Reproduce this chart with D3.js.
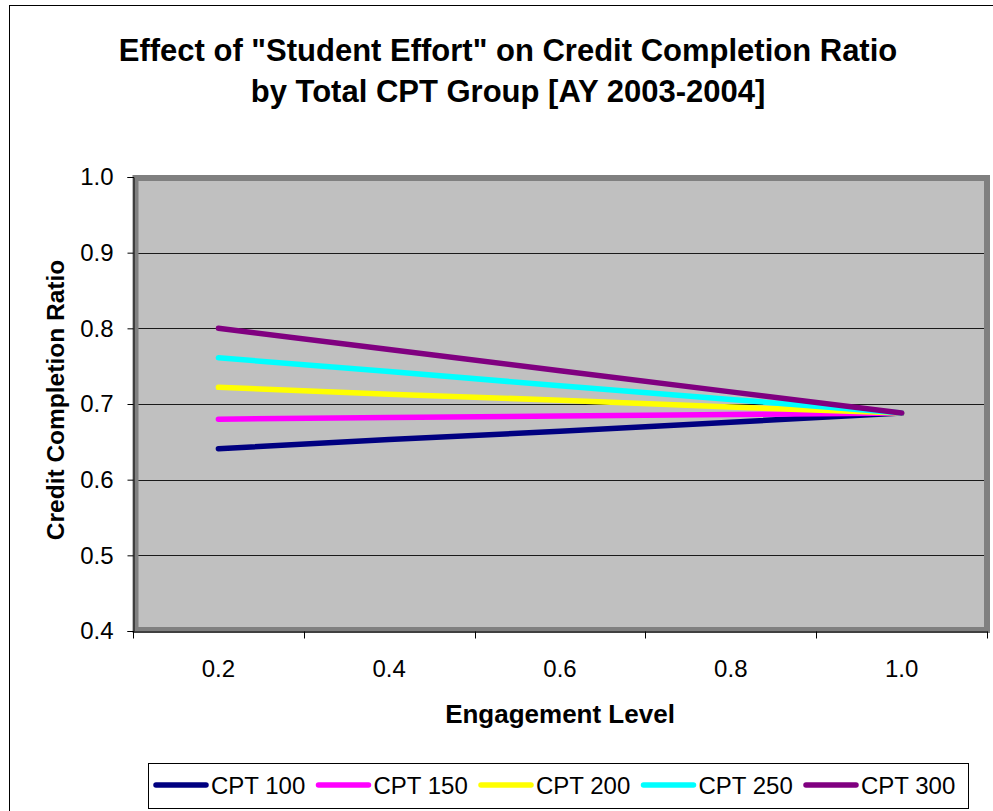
<!DOCTYPE html>
<html>
<head>
<meta charset="utf-8">
<script src="https://cdn.jsdelivr.net/npm/d3@7"></script>
<style>
  body { margin: 0; background: #fff; }
  text { font-family: Arial, "Liberation Sans", sans-serif; }
</style>
</head>
<body>
<div id="chart"></div>
<script>
// data
const levels = ["0.2", "0.4", "0.6", "0.8", "1.0"];
const seriesNames = ["CPT 100", "CPT 150", "CPT 200", "CPT 250", "CPT 300"];
const cpt100 = [0.641, 0.653, 0.664, 0.676, 0.688];
const cpt150 = [0.680, 0.682, 0.684, 0.686, 0.688];
const cpt200 = [0.722, 0.713, 0.705, 0.696, 0.688];
const cpt250 = [0.761, 0.743, 0.724, 0.706, 0.688];
const cpt300 = [0.800, 0.772, 0.744, 0.716, 0.688];
const yTicks = [0.4, 0.5, 0.6, 0.7, 0.8, 0.9, 1.0];
const colors = ["#000080", "#FF00FF", "#FFFF00", "#00FFFF", "#800080"];

const allSeries = [cpt100, cpt150, cpt200, cpt250, cpt300];

const width = 993, height = 811;
const plot = { left: 133, right: 987, top: 177, bottom: 631 };

const svg = d3.select("#chart").append("svg")
    .attr("width", width)
    .attr("height", height);

// outer chart frame
svg.append("rect")
    .attr("x", 9.5).attr("y", 5.5)
    .attr("width", 1000).attr("height", 900)
    .attr("fill", "#fff")
    .attr("stroke", "#000");

const x = d3.scaleBand().domain(levels).range([plot.left, plot.right]);
const y = d3.scaleLinear().domain([0.4, 1.0]).range([plot.bottom, plot.top]);

// plot area
svg.append("rect")
    .attr("x", plot.left).attr("y", plot.top)
    .attr("width", plot.right - plot.left)
    .attr("height", plot.bottom - plot.top)
    .attr("fill", "#C0C0C0");

// gridlines
svg.append("g")
    .selectAll("line")
    .data(yTicks.filter(d => d > 0.4 && d < 1.0))
    .join("line")
    .attr("x1", plot.left).attr("x2", plot.right)
    .attr("y1", d => Math.round(y(d)) + 0.5)
    .attr("y2", d => Math.round(y(d)) + 0.5)
    .attr("stroke", "#1a1a1a");

// plot area border (thick gray)
svg.append("rect")
    .attr("x", plot.left + 2.5).attr("y", plot.top + 1)
    .attr("width", plot.right - plot.left - 2.5)
    .attr("height", plot.bottom - plot.top - 2)
    .attr("fill", "none")
    .attr("stroke", "#808080")
    .attr("stroke-width", 6);

// y axis
const yAxis = svg.append("g")
    .attr("transform", `translate(${plot.left + 0.5},0)`)
    .call(d3.axisLeft(y).tickValues(yTicks).tickFormat(d3.format(".1f")).tickSize(6).tickPadding(14));
yAxis.select(".domain").attr("stroke", "#000");
yAxis.selectAll("text").attr("font-size", 24).attr("fill", "#000")
    .attr("font-family", "Arial, 'Liberation Sans', sans-serif");

// x axis
const xAxis = svg.append("g")
    .attr("transform", `translate(0,${plot.bottom + 0.5})`)
    .call(d3.axisBottom(x).tickSize(0).tickPadding(28));
xAxis.select(".domain").attr("stroke", "#000");
xAxis.selectAll("text").attr("font-size", 24).attr("fill", "#000")
    .attr("font-family", "Arial, 'Liberation Sans', sans-serif");

// x tick marks between categories
const bounds = levels.map(d => x(d)).concat([x(levels[levels.length - 1]) + x.bandwidth()]);
xAxis.selectAll(".sep")
    .data(bounds)
    .join("line")
    .attr("class", "sep")
    .attr("x1", d => Math.round(d) + 0.5).attr("x2", d => Math.round(d) + 0.5)
    .attr("y1", 0).attr("y2", 7)
    .attr("stroke", "#000");

// lines
const line = d3.line()
    .x((d, i) => x(levels[i]) + x.bandwidth() / 2)
    .y(d => y(d));

svg.append("g")
    .selectAll("path")
    .data(allSeries)
    .join("path")
    .attr("d", line)
    .attr("fill", "none")
    .attr("stroke", (d, i) => colors[i])
    .attr("stroke-width", 5.5)
    .attr("stroke-linecap", "round")
    .attr("stroke-linejoin", "round");

// titles
svg.append("text")
    .attr("x", 508).attr("y", 61)
    .attr("text-anchor", "middle")
    .attr("font-size", 31).attr("font-weight", "bold")
    .text('Effect of "Student Effort" on Credit Completion Ratio');
svg.append("text")
    .attr("x", 508).attr("y", 102)
    .attr("text-anchor", "middle")
    .attr("font-size", 31).attr("font-weight", "bold")
    .text("by Total CPT Group [AY 2003-2004]");

svg.append("text")
    .attr("x", 560).attr("y", 723)
    .attr("text-anchor", "middle")
    .attr("font-size", 26).attr("font-weight", "bold")
    .text("Engagement Level");

svg.append("text")
    .attr("transform", `translate(64,400) rotate(-90)`)
    .attr("text-anchor", "middle")
    .attr("font-size", 24.5).attr("font-weight", "bold")
    .text("Credit Completion Ratio");

// legend
const legend = svg.append("g");
legend.append("rect")
    .attr("x", 148.5).attr("y", 763.5)
    .attr("width", 820).attr("height", 45)
    .attr("fill", "#fff")
    .attr("stroke", "#000");

const lx = d3.scalePoint().domain(seriesNames).range([156, 806]);
const item = legend.selectAll(".item")
    .data(seriesNames)
    .join("g")
    .attr("class", "item")
    .attr("transform", d => `translate(${lx(d)},785)`);
item.append("line")
    .attr("x1", 0).attr("x2", 50)
    .attr("stroke", (d, i) => colors[i])
    .attr("stroke-width", 5.5)
    .attr("stroke-linecap", "round");
item.append("text")
    .attr("x", 55).attr("y", 8.5)
    .attr("font-size", 24)
    .text(d => d);
</script>
</body>
</html>
